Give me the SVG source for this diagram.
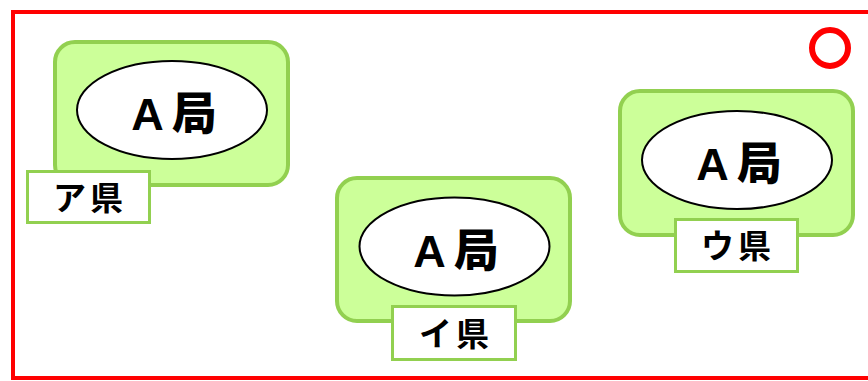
<svg xmlns="http://www.w3.org/2000/svg" width="868" height="381" viewBox="0 0 868 381">
<style>
.box{fill:#ccff99;stroke:#92d050;stroke-width:4}
.ell{fill:#ffffff;stroke:#000000;stroke-width:2}
.lab{fill:#ffffff;stroke:#92d050;stroke-width:3}
.t1{font-family:"Liberation Sans","Noto Sans CJK JP",sans-serif;font-weight:900;font-size:45px;text-anchor:middle;fill:#000;letter-spacing:8px}
.t2{font-family:"Noto Sans CJK JP","Liberation Sans",sans-serif;font-weight:bold;font-size:33px;text-anchor:middle;fill:#000;letter-spacing:4px}
</style>
<rect x="13" y="12" width="870" height="366" fill="none" stroke="#ff0000" stroke-width="4"/>
<circle cx="830" cy="48" r="18" fill="none" stroke="#ff0000" stroke-width="6"/>
<g id="node-a">
<rect class="box" x="55" y="42" width="233" height="143" rx="20"/>
<ellipse class="ell" cx="172" cy="110" rx="95" ry="49"/>
<text class="t1" x="178" y="130">A局</text>
<rect class="lab" x="27.5" y="171.5" width="122" height="51"/>
<text class="t2" x="90" y="210">ア県</text>
</g>
<g id="node-b">
<rect class="box" x="337" y="178" width="233" height="143" rx="20"/>
<ellipse class="ell" cx="454.5" cy="246.5" rx="95" ry="49"/>
<text class="t1" x="460" y="267">A局</text>
<rect class="lab" x="392.5" y="306.5" width="123" height="53"/>
<text class="t2" x="456" y="346">イ県</text>
</g>
<g id="node-c">
<rect class="box" x="620" y="91" width="233" height="144" rx="20"/>
<ellipse class="ell" cx="737" cy="160" rx="95" ry="49"/>
<text class="t1" x="743" y="180">A局</text>
<rect class="lab" x="675.5" y="219.5" width="122" height="52"/>
<text class="t2" x="738" y="258">ウ県</text>
</g>
<g id="connectors"></g>
</svg>
